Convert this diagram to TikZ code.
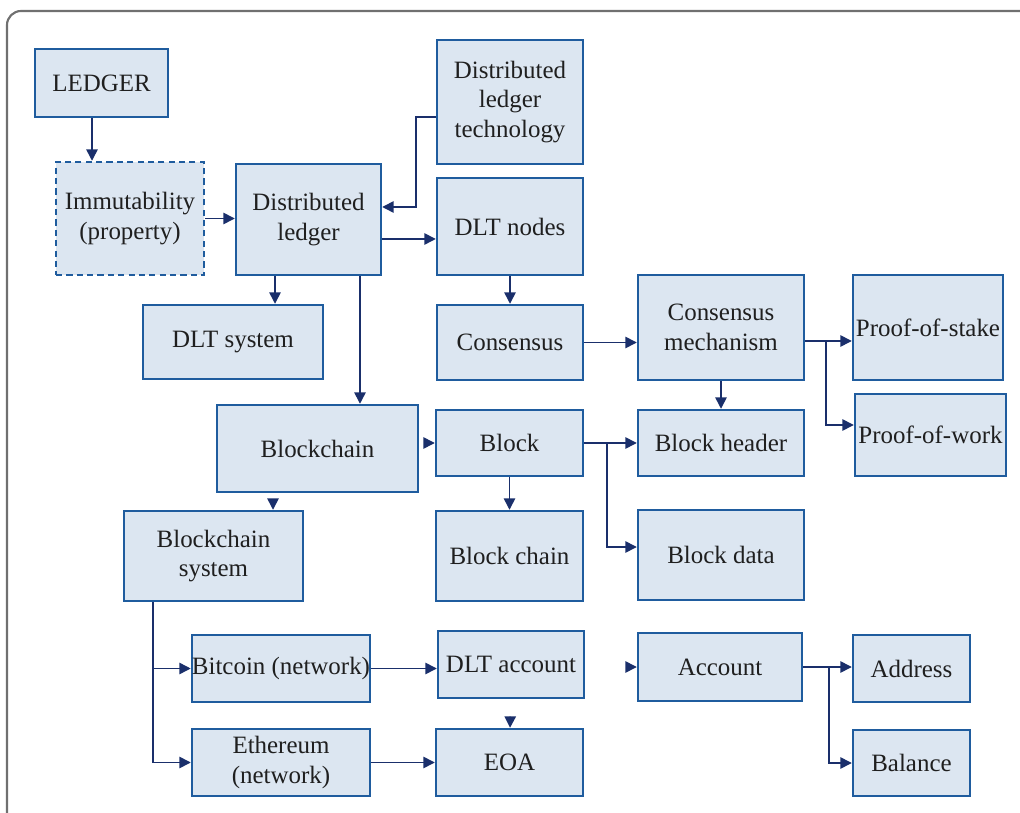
\documentclass[tikz,border=0pt]{standalone}
\usepackage{fontspec}
\setmainfont{Liberation Serif}
\newfontfamily\diagfont{Liberation Serif}
\usetikzlibrary{arrows.meta,positioning,calc}
\definecolor{BoxFill}{HTML}{DCE6F1}
\definecolor{BoxEdge}{HTML}{1F5C9E}
\definecolor{ArrowNavy}{HTML}{1A2F6B}
\definecolor{FrameGray}{HTML}{707070}

\begin{document}
\begin{tikzpicture}[
    x=0.02cm,y=-0.02cm,
    every node/.style={font=\diagfont\fontsize{14.2}{17}\selectfont,text=black!88},
    box/.style 2 args={draw=BoxEdge,fill=BoxFill,line width=1.4pt,align=center,inner sep=0pt,
      minimum width=#1*0.02cm,minimum height=#2*0.02cm},
    arr/.style={-{Triangle[length=6.5pt,width=6.5pt]},ArrowNavy,line width=0.85pt},
    stub/.style={arr,shorten <=#1}
  ]
    \useasboundingbox (0,0) rectangle (1020,813);
    \begin{scope}
      \clip (0,0) rectangle (1020,813);
      \draw[FrameGray,line width=1.2pt,rounded corners=8pt] (7,11) rectangle (1045,835);
    \end{scope}
    % first column
    \node[box={133}{68}] (ledger) at (101.5,83) {LEDGER};
    \node[box={148}{113},dashed,dash pattern=on 3.5pt off 2.4pt] (immut) at (130,218.5) {Immutability\\(property)};
    \node[box={145}{111}] (dl) at (308.5,219.5) {Distributed\\ledger};
    \node[box={180}{74}] (dltsys) at (233,342) {DLT system};
    \node[box={201}{87}] (blockchain) at (317.5,448.5) {Blockchain};
    \node[box={179}{90}] (bcsys) at (213.5,556) {Blockchain\\system};
    \node[box={178}{67}] (bitcoin) at (281,668.5) {Bitcoin (network)};
    \node[box={178}{67}] (eth) at (281,762.5) {Ethereum\\(network)};
    % middle column
    \node[box={146}{124}] (dlt) at (510,102) {Distributed\\ledger\\technology};
    \node[box={146}{97}] (dltnodes) at (510,226.5) {DLT nodes};
    \node[box={146}{75}] (consensus) at (510,342.5) {Consensus};
    \node[box={147}{66}] (block) at (509.5,443) {Block};
    \node[box={147}{90}] (bchain) at (509.5,556) {Block chain};
    \node[box={146}{67}] (dltacc) at (511,664.5) {DLT account};
    \node[box={147}{67}] (eoa) at (509.5,762.5) {EOA};
    % right columns
    \node[box={166}{105}] (mech) at (721,327.5) {Consensus\\mechanism};
    \node[box={166}{66}] (header) at (721,443) {Block header};
    \node[box={166}{90}] (bdata) at (721,555) {Block data};
    \node[box={164}{68}] (account) at (720,667) {Account};
    \node[box={150}{105}] (pos) at (928,327.5) {Proof-of-stake};
    \node[box={151}{82}] (pow) at (930.5,435) {Proof-of-work};
    \node[box={117}{67}] (address) at (911.5,668.5) {Address};
    \node[box={117}{66}] (balance) at (911.5,763) {Balance};
    % connectors
    \draw[arr] ([xshift=-0.19cm]ledger.south) -- ([xshift=-0.19cm]ledger.south |- immut.north);
    \draw[arr] (immut.east) -- (immut.east -| dl.west);
    \draw[arr] ([yshift=-0.3cm]dlt.west) -- ++(-0.4cm,0) |- ([yshift=0.25cm]dl.east);
    \draw[arr] ([yshift=-0.39cm]dl.east) -- ([yshift=-0.39cm]dl.east -| dltnodes.west);
    \draw[arr] ([xshift=-0.67cm]dl.south) -- ([xshift=-0.67cm]dl.south |- dltsys.north);
    \draw[arr] ([xshift=1.03cm]dl.south) -- ([xshift=1.03cm]dl.south |- blockchain.north);
    \draw[arr] (dltnodes) -- (consensus);
    \draw[arr] (consensus.east) -- (consensus.east -| mech.west);
    \draw[arr] ([yshift=-0.27cm]mech.east) -- ([yshift=-0.27cm]mech.east -| pos.west);
    \draw[arr] ([yshift=-0.27cm]mech.east) -- ++(0.42cm,0) |- ([yshift=0.2cm]pow.west);
    \draw[arr] (mech) -- (header);
    \draw[stub=0.14cm] (block.west -| blockchain.east) -- (block.west);
    \draw[arr] (block) -- (header);
    \draw[arr] (block.east) -- ++(0.46cm,0) |- ([yshift=0.16cm]bdata.west);
    \draw[arr] (block) -- (bchain);
    \draw[stub=0.18cm] ([xshift=-0.89cm]blockchain.south) -- ([xshift=-0.89cm]blockchain.south |- bcsys.north);
    \draw[arr] ([xshift=-1.21cm]bcsys.south) |- (bitcoin.west);
    \draw[arr] ([xshift=-1.21cm]bcsys.south) |- (eth.west);
    \draw[arr] (bitcoin.east) -- (bitcoin.east -| dltacc.west);
    \draw[arr] (eth) -- (eoa);
    \draw[stub=0.4cm] (dltacc) -- (eoa);
    \draw[stub=0.86cm] (account.west -| dltacc.east) -- (account.west);
    \draw[arr] (account.east) -- (account.east -| address.west);
    \draw[arr] (account.east) -- ++(0.52cm,0) |- (balance.west);
  \end{tikzpicture}
\end{document}
